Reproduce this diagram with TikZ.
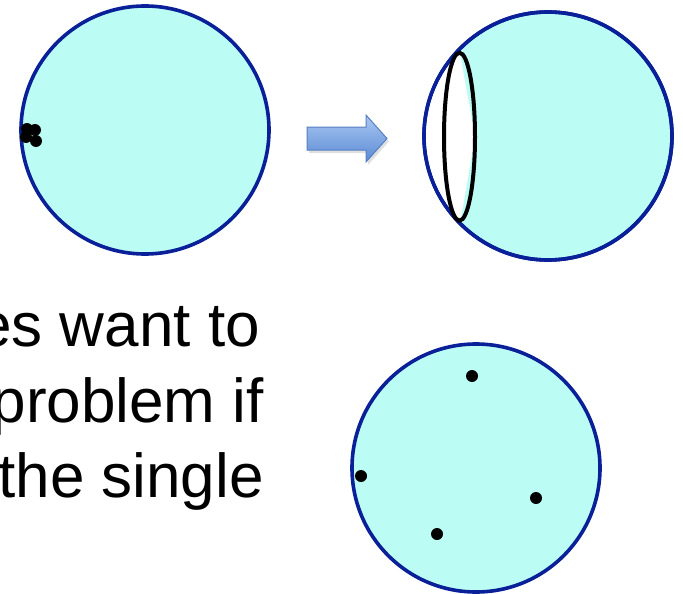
\documentclass[tikz,border=0pt]{standalone}
\usepackage{fontspec}
\setmainfont{Liberation Sans}
\usetikzlibrary{shapes.geometric}

\definecolor{ballfill}{RGB}{187,253,245}
\definecolor{balledge}{RGB}{10,32,152}
\definecolor{arrowtop}{RGB}{170,200,242}
\definecolor{arrowbot}{RGB}{90,138,212}
\definecolor{arrowedge}{RGB}{86,128,194}

\tikzset{
  ball/.style={circle, draw=balledge, fill=ballfill, line width=3.6pt,
    minimum size=248pt, inner sep=0pt},
  pt/.style={circle, fill=black, minimum size=12pt, inner sep=0pt},
  ring/.style={ellipse, draw=black, line width=4pt, minimum width=31pt,
    minimum height=168pt, inner sep=0pt},
  words/.style={font=\fontsize{62}{77}\selectfont, inner sep=0pt, anchor=base east},
}

\begin{document}
\begin{tikzpicture}[x=1pt, y=-1pt]
  \useasboundingbox (0,0) rectangle (683,594);
  \clip (0,0) rectangle (683,594);

  % all points bunched up on the left
  \node[ball] (before) at (145,130) {};
  \node[pt] (b1) at (27,129) {};
  \node[pt] (b2) at (35,130) {};
  \node[pt] (b3) at (26,137) {};
  \node[pt] (b4) at (36,141) {};

  % block arrow
  \fill[black, opacity=0.12] (309,130) -- (368,130) -- (368,118) -- (389,141.5)
    -- (368,165) -- (368,153) -- (309,153) -- cycle;
  \shade[top color=arrowtop, bottom color=arrowbot, draw=arrowedge, line width=1pt]
    (307,127) -- (366,127) -- (366,115) -- (387,138.5) -- (366,162)
    -- (366,150) -- (307,150) -- cycle;

  % cap cut off the right ball
  \node[ball] (after) at (548,136) {};
  \begin{scope}
    \clip (after.center) circle (122.2pt);
    \fill[white] (459,48) -- (415,48) -- (415,226) -- (460,224) -- (475,137) -- cycle;
  \end{scope}
  \draw[balledge, line width=3.6pt] (after.center) circle (124pt);
  \node[ring] (cap) at (459.5,136.7) {};

  % text, cut at the left edge
  \node[words] (l1) at (260,346) {es want to};
  \node[words] (l2) at (264,422) {problem if};
  \node[words] (l3) at (264,497) {the single};

  % points spread out
  \node[ball] (spread) at (476,468) {};
  \node[pt] (s1) at (472,376) {};
  \node[pt] (s2) at (361,476) {};
  \node[pt] (s3) at (536,498) {};
  \node[pt] (s4) at (437,534) {};
\end{tikzpicture}
\end{document}
